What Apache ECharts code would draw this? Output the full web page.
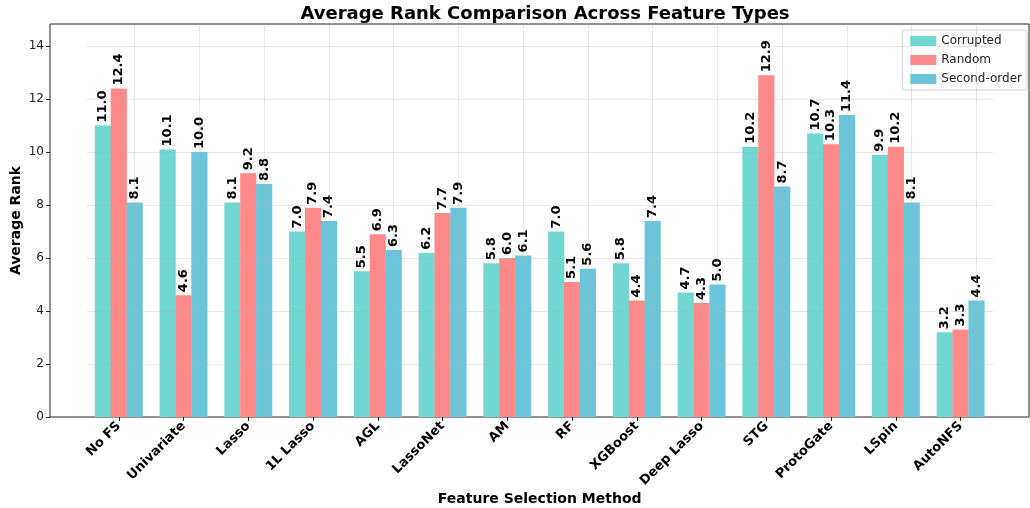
<!DOCTYPE html>
<html>
<head>
<meta charset="utf-8">
<script src="https://cdn.jsdelivr.net/npm/echarts@6/dist/echarts.min.js"></script>
<style>
    body { margin: 0; background: #fff; }
    #myChart { width: 1030px; height: 508px; }
</style>
</head>
<body>
<div id="myChart"></div>
<script>
const methods = ['No FS', 'Univariate', 'Lasso', '1L Lasso', 'AGL', 'LassoNet', 'AM', 'RF', 'XGBoost', 'Deep Lasso', 'STG', 'ProtoGate', 'LSpin', 'AutoNFS'];
const corrupted = [11.0, 10.1, 8.1, 7.0, 5.5, 6.2, 5.8, 7.0, 5.8, 4.7, 10.2, 10.7, 9.9, 3.2];
const random = [12.4, 4.6, 9.2, 7.9, 6.9, 7.7, 6.0, 5.1, 4.4, 4.3, 12.9, 10.3, 10.2, 3.3];
const secondOrder = [8.1, 10.0, 8.8, 7.4, 6.3, 7.9, 6.1, 5.6, 7.4, 5.0, 8.7, 11.4, 8.1, 4.4];
const yTicks = [2, 4, 6, 8, 10, 12, 14];
const yMax = 14.835;

const font = 'DejaVu Sans';
const gridColor = 'rgba(176,176,176,0.3)';
let myChart = echarts.init(document.getElementById('myChart'));

function barSeries(name, color, data) {
    return {
        name: name,
        type: 'bar',
        xAxisIndex: 1,
        yAxisIndex: 1,
        barWidth: '25%',
        barGap: '-2%',
        itemStyle: { color: color, borderWidth: 0 },
        label: {
            show: true,
            position: 'top',
            rotate: 90,
            align: 'left',
            verticalAlign: 'middle',
            distance: 3,
            fontFamily: font,
            fontWeight: 'bold',
            fontSize: 13,
            color: '#000',
            formatter: (p) => p.value.toFixed(1)
        },
        data: data
    };
}

let series = [
    barSeries('Corrupted', '#71d7d0', corrupted),
    barSeries('Random', '#ff8989', random),
    barSeries('Second-order', '#6ac5da', secondOrder)
];
// grid lines sit on top of the bars like matplotlib's, so draw them as markLines
series[2].markLine = {
    silent: true,
    symbol: 'none',
    label: { show: false },
    lineStyle: { color: gridColor, type: 'solid', width: 1 },
    data: methods.map((m) => ({ xAxis: m })).concat(yTicks.map((v) => ({ yAxis: v })))
};

let option = {
    animation: false,
    title: {
        text: 'Average Rank Comparison Across Feature Types',
        left: 540,
        textAlign: 'center',
        top: 0,
        textStyle: { fontFamily: font, fontWeight: 'bold', fontSize: 18, color: '#000' }
    },
    legend: {
        orient: 'vertical',
        right: 3,
        top: 30,
        icon: 'rect',
        itemWidth: 26,
        itemHeight: 10,
        itemGap: 7,
        padding: [5, 5, 5, 8],
        borderColor: '#d0d0d0',
        borderWidth: 1,
        borderRadius: 3,
        backgroundColor: 'rgba(255,255,255,0.8)',
        textStyle: { fontFamily: font, fontSize: 12, color: '#222' },
        data: ['Corrupted', 'Random', 'Second-order']
    },
    grid: [
        // outer frame, same box as the matplotlib axes
        { left: 50, right: 1, top: 24, bottom: 91, show: true, borderColor: '#222', borderWidth: 1, outerBoundsMode: 'none', containLabel: false },
        // bars go here so the category centres match the frame margins
        { left: 86.4, right: 37, top: 24, bottom: 91, outerBoundsMode: 'none', containLabel: false }
    ],
    xAxis: [
        { gridIndex: 0, type: 'value', min: 0, max: 1, show: false },
        {
            gridIndex: 1,
            type: 'category',
            data: methods,
            axisLine: { show: false },
            axisTick: { show: true, alignWithLabel: true, length: 4, lineStyle: { color: '#222' } },
            splitLine: { show: false },
            axisLabel: {
                rotate: 45,
                interval: 0,
                margin: 7,
                fontFamily: font,
                fontWeight: 'bold',
                fontSize: 13,
                color: '#000'
            },
            name: 'Feature Selection Method',
            nameLocation: 'middle',
            nameGap: 75,
            nameMoveOverlap: false,
            nameTextStyle: { fontFamily: font, fontWeight: 'bold', fontSize: 14, color: '#000' }
        }
    ],
    yAxis: [
        {
            gridIndex: 0,
            type: 'value',
            min: 0,
            max: yMax,
            interval: 2,
            axisLine: { show: false },
            axisTick: { show: true, length: 4, lineStyle: { color: '#222' } },
            splitLine: { show: false },
            axisLabel: {
                margin: 6,
                fontFamily: font,
                fontSize: 12,
                color: '#222',
                showMaxLabel: false
            },
            name: 'Average Rank',
            nameLocation: 'middle',
            nameGap: 27,
            nameMoveOverlap: false,
            nameTextStyle: { fontFamily: font, fontWeight: 'bold', fontSize: 14, color: '#000' }
        },
        { gridIndex: 1, type: 'value', min: 0, max: yMax, show: false }
    ],
    series: series
};
myChart.setOption(option);
</script>
</body>
</html>
